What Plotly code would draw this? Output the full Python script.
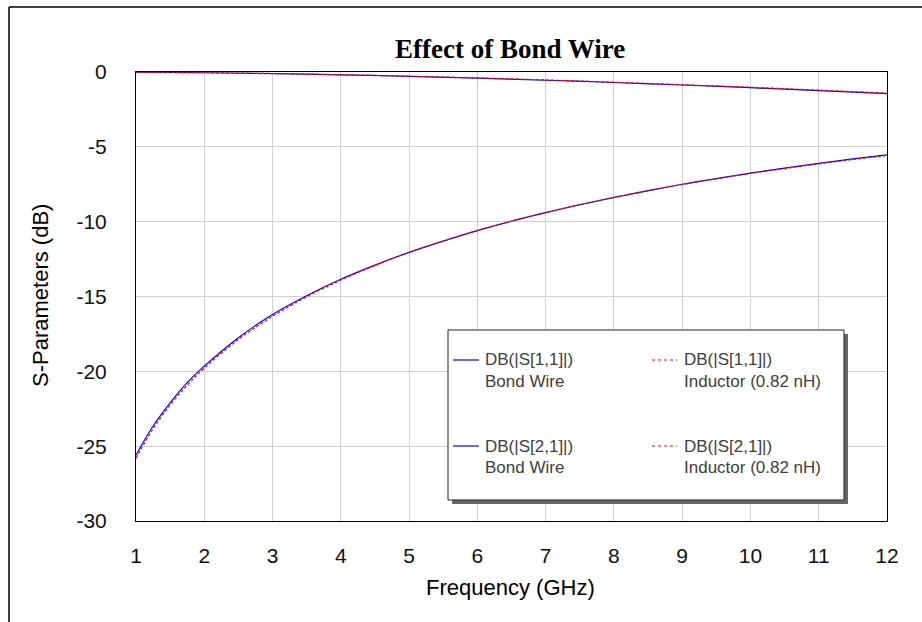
import plotly.graph_objects as go

# ---- data -----------------------------------------------------------------
freq_s11 = [1, 1.25, 1.5, 1.75, 2, 2.5, 3, 3.5, 4, 4.5, 5, 5.5, 6, 6.5, 7,
            7.5, 8, 8.5, 9, 9.5, 10, 10.5, 11, 11.5, 12]
s11_bond = [-25.6, -23.65, -22.1, -20.75, -19.65, -17.75, -16.2, -14.95, -13.85,
            -12.9, -12.05, -11.3, -10.6, -9.97, -9.4, -8.87, -8.38, -7.93, -7.5,
            -7.12, -6.76, -6.42, -6.1, -5.81, -5.54]
s11_ind = [-25.8, -23.84, -22.26, -20.93, -19.79, -17.87, -16.32, -15.02, -13.9,
           -12.93, -12.06, -11.29, -10.59, -9.96, -9.39, -8.86, -8.38, -7.94,
           -7.52, -7.14, -6.78, -6.45, -6.14, -5.85, -5.58]

freq_s21 = [1, 2, 3, 4, 5, 6, 7, 8, 9, 10, 11, 12]
s21_bond = [-0.01, -0.05, -0.11, -0.19, -0.29, -0.41, -0.55, -0.70, -0.87, -1.05, -1.24, -1.44]
s21_ind = [-0.01, -0.05, -0.10, -0.18, -0.28, -0.40, -0.53, -0.68, -0.85, -1.02, -1.21, -1.41]

measure_labels = ["DB(|S[1,1]|)", "DB(|S[2,1]|)"]
source_labels = ["Bond Wire", "Inductor (0.82 nH)"]

x_ticks = list(range(1, 13))
y_ticks = [0, -5, -10, -15, -20, -25, -30]

title_text = "Effect of Bond Wire"
x_title = "Frequency (GHz)"
y_title = "S-Parameters (dB)"

# ---- layout geometry (pixels) ---------------------------------------------
W, H = 922, 622
PL, PR, PT, PB = 136, 887, 72, 521


def px(x):
    return (x - PL) / (PR - PL)


def py(y):
    return (PB - y) / (PB - PT)


BLUE = "#0000ff"
RED = "#ff0000"
RED_DASH = "3px,2px"
SANS = "Arial, Liberation Sans, sans-serif"

fig = go.Figure()

fig.add_trace(go.Scatter(x=freq_s11, y=s11_bond, mode="lines", line_shape="spline",
                         line=dict(color=BLUE, width=1.2),
                         name=measure_labels[0] + " " + source_labels[0]))
fig.add_trace(go.Scatter(x=freq_s21, y=s21_bond, mode="lines", line_shape="spline",
                         line=dict(color=BLUE, width=1.2),
                         name=measure_labels[1] + " " + source_labels[0]))
fig.add_trace(go.Scatter(x=freq_s11, y=s11_ind, mode="lines", line_shape="spline",
                         line=dict(color=RED, width=1.2, dash=RED_DASH),
                         name=measure_labels[0] + " " + source_labels[1]))
fig.add_trace(go.Scatter(x=freq_s21, y=s21_ind, mode="lines", line_shape="spline",
                         line=dict(color=RED, width=1.2, dash=RED_DASH),
                         name=measure_labels[1] + " " + source_labels[1]))

shapes = []
annotations = []

# outer frame lines (top and left)
shapes.append(dict(type="line", xref="paper", yref="paper",
                   x0=px(9), x1=px(W + 2), y0=py(7), y1=py(7),
                   line=dict(color="#000000", width=1.5)))
shapes.append(dict(type="line", xref="paper", yref="paper",
                   x0=px(9), x1=px(9), y0=py(7), y1=py(H + 2),
                   line=dict(color="#000000", width=1.5)))

# legend box with drop shadow
LX0, LX1, LY0, LY1 = 448, 844, 330, 500
shapes.append(dict(type="rect", xref="paper", yref="paper",
                   x0=px(LX0 + 4), x1=px(LX1 + 4), y0=py(LY0 + 4), y1=py(LY1 + 4),
                   fillcolor="#666666", line=dict(width=0)))
shapes.append(dict(type="rect", xref="paper", yref="paper",
                   x0=px(LX0), x1=px(LX1), y0=py(LY0), y1=py(LY1),
                   fillcolor="#ffffff", line=dict(color="#222222", width=1)))

rows_y = [360, 446]
cols = [(453, 479, 483, BLUE, None), (652, 677, 682, RED, RED_DASH)]
for r, ry in enumerate(rows_y):
    for c, (lx0, lx1, tx, col, dash) in enumerate(cols):
        ln = dict(color=col, width=1.2)
        if dash:
            ln["dash"] = "dot"
        shapes.append(dict(type="line", xref="paper", yref="paper",
                           x0=px(lx0), x1=px(lx1), y0=py(ry), y1=py(ry), line=ln))
        annotations.append(dict(text=measure_labels[r], xref="paper", yref="paper",
                                x=px(tx), y=py(ry), xanchor="left", yanchor="middle",
                                showarrow=False,
                                font=dict(family=SANS, size=17, color="#404040")))
        annotations.append(dict(text=source_labels[c], xref="paper", yref="paper",
                                x=px(tx), y=py(ry + 21), xanchor="left", yanchor="middle",
                                showarrow=False,
                                font=dict(family=SANS, size=17, color="#404040")))

# title and axis titles
annotations.append(dict(text="<b>" + title_text + "</b>", xref="paper", yref="paper",
                        x=px(510), y=py(48.5), xanchor="center", yanchor="middle",
                        showarrow=False,
                        font=dict(family="Times New Roman, Liberation Serif, serif",
                                  size=27, color="#000000")))
annotations.append(dict(text=x_title, xref="paper", yref="paper",
                        x=px(510), y=py(587), xanchor="center", yanchor="middle",
                        showarrow=False, font=dict(family=SANS, size=22, color="#000000")))
annotations.append(dict(text=y_title, xref="paper", yref="paper",
                        x=px(40), y=py(296), xanchor="center", yanchor="middle",
                        textangle=-90, showarrow=False,
                        font=dict(family=SANS, size=22, color="#000000")))

fig.update_layout(
    width=W, height=H,
    margin=dict(l=PL, r=W - PR, t=PT, b=H - PB, pad=0),
    paper_bgcolor="#ffffff",
    plot_bgcolor="#ffffff",
    showlegend=False,
    shapes=shapes,
    annotations=annotations,
    xaxis=dict(range=[1, 12], tickvals=x_ticks, ticktext=[str(v) for v in x_ticks],
               showgrid=True, gridcolor="#cfcfcf", gridwidth=1,
               showline=True, linecolor="#000000", linewidth=1, mirror=True,
               ticks="", zeroline=False, ticklabelstandoff=16,
               tickfont=dict(family=SANS, size=21, color="#111111")),
    yaxis=dict(range=[-30, 0], tickvals=y_ticks, ticktext=[str(v) for v in y_ticks],
               showgrid=True, gridcolor="#cfcfcf", gridwidth=1,
               showline=True, linecolor="#000000", linewidth=1, mirror=True,
               ticks="", zeroline=False, ticklabelstandoff=24,
               tickfont=dict(family=SANS, size=21, color="#111111")),
)

fig.write_html("out.html")
